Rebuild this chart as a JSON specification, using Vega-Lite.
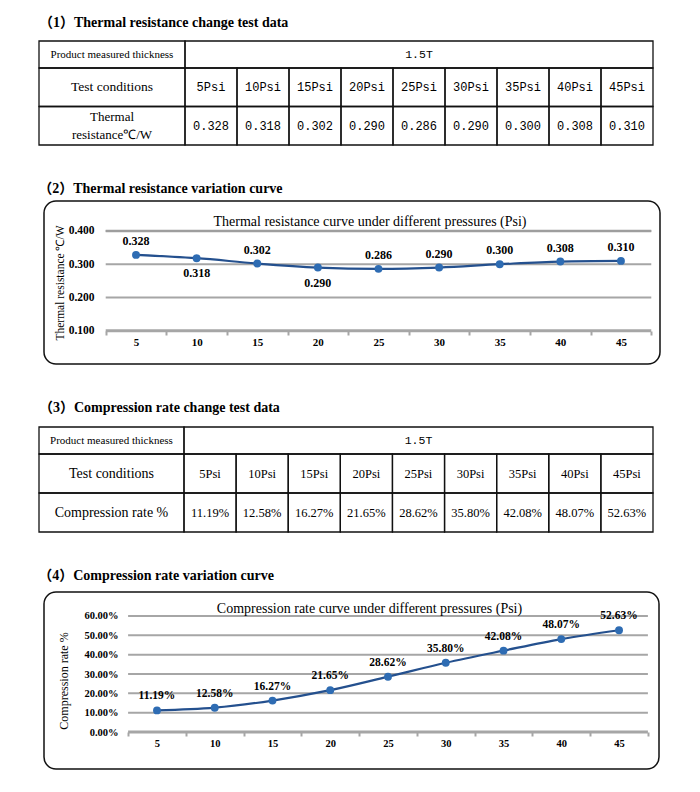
{
  "$schema": "https://vega.github.io/schema/vega-lite/v6.json",
  "padding": {"left": 38, "top": 16, "right": 10, "bottom": 10},
  "background": "white",
  "config": {
    "font": "Liberation Serif",
    "view": {"stroke": null},
    "concat": {"spacing": 36},
    "axis": {"labelFont": "Liberation Serif", "titleFont": "Liberation Serif", "labelColor": "#000", "titleColor": "#000"},
    "title": {"font": "Liberation Serif, Noto Sans CJK SC", "color": "#000"},
    "text": {"font": "Liberation Serif", "color": "#000"}
  },
  "datasets": {
    "table1": [
      {"r0": 0, "r1": 1, "c0": 0, "c1": 1, "t": "Product measured thickness"},
      {"r0": 0, "r1": 1, "c0": 1, "c1": 10, "t": "1.5T"},
      {"r0": 1, "r1": 2, "c0": 0, "c1": 1, "t": "Test conditions"},
      {"r0": 1, "r1": 2, "c0": 1, "c1": 2, "t": "5Psi"},
      {"r0": 1, "r1": 2, "c0": 2, "c1": 3, "t": "10Psi"},
      {"r0": 1, "r1": 2, "c0": 3, "c1": 4, "t": "15Psi"},
      {"r0": 1, "r1": 2, "c0": 4, "c1": 5, "t": "20Psi"},
      {"r0": 1, "r1": 2, "c0": 5, "c1": 6, "t": "25Psi"},
      {"r0": 1, "r1": 2, "c0": 6, "c1": 7, "t": "30Psi"},
      {"r0": 1, "r1": 2, "c0": 7, "c1": 8, "t": "35Psi"},
      {"r0": 1, "r1": 2, "c0": 8, "c1": 9, "t": "40Psi"},
      {"r0": 1, "r1": 2, "c0": 9, "c1": 10, "t": "45Psi"},
      {"r0": 2, "r1": 3, "c0": 0, "c1": 1, "t": "Thermal\nresistance℃/W"},
      {"r0": 2, "r1": 3, "c0": 1, "c1": 2, "t": "0.328"},
      {"r0": 2, "r1": 3, "c0": 2, "c1": 3, "t": "0.318"},
      {"r0": 2, "r1": 3, "c0": 3, "c1": 4, "t": "0.302"},
      {"r0": 2, "r1": 3, "c0": 4, "c1": 5, "t": "0.290"},
      {"r0": 2, "r1": 3, "c0": 5, "c1": 6, "t": "0.286"},
      {"r0": 2, "r1": 3, "c0": 6, "c1": 7, "t": "0.290"},
      {"r0": 2, "r1": 3, "c0": 7, "c1": 8, "t": "0.300"},
      {"r0": 2, "r1": 3, "c0": 8, "c1": 9, "t": "0.308"},
      {"r0": 2, "r1": 3, "c0": 9, "c1": 10, "t": "0.310"}
    ],
    "table3": [
      {"r0": 0, "r1": 1, "c0": 0, "c1": 1, "t": "Product measured thickness"},
      {"r0": 0, "r1": 1, "c0": 1, "c1": 10, "t": "1.5T"},
      {"r0": 1, "r1": 2, "c0": 0, "c1": 1, "t": "Test conditions"},
      {"r0": 1, "r1": 2, "c0": 1, "c1": 2, "t": "5Psi"},
      {"r0": 1, "r1": 2, "c0": 2, "c1": 3, "t": "10Psi"},
      {"r0": 1, "r1": 2, "c0": 3, "c1": 4, "t": "15Psi"},
      {"r0": 1, "r1": 2, "c0": 4, "c1": 5, "t": "20Psi"},
      {"r0": 1, "r1": 2, "c0": 5, "c1": 6, "t": "25Psi"},
      {"r0": 1, "r1": 2, "c0": 6, "c1": 7, "t": "30Psi"},
      {"r0": 1, "r1": 2, "c0": 7, "c1": 8, "t": "35Psi"},
      {"r0": 1, "r1": 2, "c0": 8, "c1": 9, "t": "40Psi"},
      {"r0": 1, "r1": 2, "c0": 9, "c1": 10, "t": "45Psi"},
      {"r0": 2, "r1": 3, "c0": 0, "c1": 1, "t": "Compression rate %"},
      {"r0": 2, "r1": 3, "c0": 1, "c1": 2, "t": "11.19%"},
      {"r0": 2, "r1": 3, "c0": 2, "c1": 3, "t": "12.58%"},
      {"r0": 2, "r1": 3, "c0": 3, "c1": 4, "t": "16.27%"},
      {"r0": 2, "r1": 3, "c0": 4, "c1": 5, "t": "21.65%"},
      {"r0": 2, "r1": 3, "c0": 5, "c1": 6, "t": "28.62%"},
      {"r0": 2, "r1": 3, "c0": 6, "c1": 7, "t": "35.80%"},
      {"r0": 2, "r1": 3, "c0": 7, "c1": 8, "t": "42.08%"},
      {"r0": 2, "r1": 3, "c0": 8, "c1": 9, "t": "48.07%"},
      {"r0": 2, "r1": 3, "c0": 9, "c1": 10, "t": "52.63%"}
    ],
    "thermal": [
      {"p": 5, "r": 0.328}, {"p": 10, "r": 0.318}, {"p": 15, "r": 0.302},
      {"p": 20, "r": 0.290}, {"p": 25, "r": 0.286}, {"p": 30, "r": 0.290},
      {"p": 35, "r": 0.300}, {"p": 40, "r": 0.308}, {"p": 45, "r": 0.310}
    ],
    "compression": [
      {"p": 5, "c": 0.1119}, {"p": 10, "c": 0.1258}, {"p": 15, "c": 0.1627},
      {"p": 20, "c": 0.2165}, {"p": 25, "c": 0.2862}, {"p": 30, "c": 0.3580},
      {"p": 35, "c": 0.4208}, {"p": 40, "c": 0.4807}, {"p": 45, "c": 0.5263}
    ]
  },
  "vconcat": [
    {
      "title": {"text": "（1）Thermal resistance change test data", "anchor": "start", "frame": "group", "offset": -1, "dx": -5, "baseline": "alphabetic", "fontSize": 14, "fontWeight": "bold"},
      "width": 614, "height": 104,
      "data": {"name": "table1"},
      "encoding": {
        "x": {"field": "c0", "type": "quantitative", "scale": {"domain": [0, 1, 10], "range": [-5, 141, 609], "nice": false, "zero": false}, "axis": null},
        "y": {"field": "r0", "type": "quantitative", "scale": {"domain": [0, 1, 3], "range": [0, 27, 104], "nice": false, "zero": false}, "axis": null}
      },
      "layer": [
        {"mark": {"type": "rect", "filled": false, "stroke": "#111", "strokeWidth": 1.3}, "encoding": {"x2": {"field": "c1"}, "y2": {"field": "r1"}}},
        {"transform": [{"filter": "datum.r0 == 0 && datum.c0 == 0"}], "mark": {"type": "text", "align": "center", "baseline": "middle", "dx": 73, "dy": 13.5, "fontSize": 11}, "encoding": {"text": {"field": "t"}}},
        {"transform": [{"filter": "datum.r0 == 0 && datum.c0 > 0"}], "mark": {"type": "text", "align": "center", "baseline": "middle", "dx": 234, "dy": 13.5, "fontSize": 11.5, "font": "Liberation Mono"}, "encoding": {"text": {"field": "t"}}},
        {"transform": [{"filter": "datum.r0 == 1 && datum.c0 == 0"}], "mark": {"type": "text", "align": "center", "baseline": "middle", "dx": 73, "dy": 19, "fontSize": 13.5}, "encoding": {"text": {"field": "t"}}},
        {"transform": [{"filter": "datum.r0 == 2 && datum.c0 == 0"}], "mark": {"type": "text", "align": "center", "baseline": "middle", "dx": 73, "dy": 10.5, "fontSize": 13, "lineBreak": "\n", "lineHeight": 18}, "encoding": {"text": {"field": "t"}}},
        {"transform": [{"filter": "datum.r0 > 0 && datum.c0 > 0"}], "mark": {"type": "text", "align": "center", "baseline": "middle", "dx": 26, "dy": 19, "fontSize": 12, "font": "Liberation Mono"}, "encoding": {"text": {"field": "t"}}}
      ]
    },
    {
      "title": {"text": "（2）Thermal resistance variation curve", "anchor": "start", "offset": -7, "dx": -5, "baseline": "alphabetic", "fontSize": 14, "fontWeight": "bold"},
      "vconcat": [
        {
          "width": 616, "height": 163,
          "view": {"stroke": "#111", "strokeWidth": 1.5, "cornerRadius": 12},
          "title": {"text": "Thermal resistance curve under different pressures (Psi)", "anchor": "middle", "frame": "group", "offset": -39, "dx": 18, "baseline": "alphabetic", "fontSize": 14, "fontWeight": "normal"},
          "resolve": {"axis": {"x": "independent"}},
          "layer": [
            {
              "data": {"values": [{"g": 0.4}, {"g": 0.3}, {"g": 0.2}]},
              "mark": {"type": "rule", "color": "#a6a6a6", "strokeWidth": 2},
              "encoding": {
                "y": {"field": "g", "type": "quantitative", "scale": {"domain": [0, 0.49], "nice": false, "zero": false},
                      "axis": {"values": [0.1, 0.2, 0.3, 0.4], "format": ".3f", "orient": "left", "offset": -52, "domain": false, "ticks": false, "tickSize": 0, "grid": false, "labelPadding": 2, "labelFontSize": 11.5, "labelFontWeight": "bold", "title": "Thermal resistance ℃/W", "titleFontSize": 11.5, "titleFontWeight": "normal", "titlePadding": 2.5}},
                "x": {"datum": 2.5, "type": "quantitative", "scale": {"domain": [-2.59, 48.22], "nice": false, "zero": false}, "axis": null},
                "x2": {"datum": 47.5}
              }
            },
            {
              "data": {"values": [{}]},
              "mark": {"type": "rule", "color": "#9e9e9e", "strokeWidth": 2.5},
              "encoding": {
                "y": {"datum": 0.4, "type": "quantitative", "scale": {"domain": [0, 0.49], "nice": false, "zero": false},
                      "axis": {"values": [0.1, 0.2, 0.3, 0.4], "format": ".3f", "orient": "left", "offset": -52, "domain": false, "ticks": false, "tickSize": 0, "grid": false, "labelPadding": 2, "labelFontSize": 11.5, "labelFontWeight": "bold", "title": "Thermal resistance ℃/W", "titleFontSize": 11.5, "titleFontWeight": "normal", "titlePadding": 2.5}},
                "x": {"datum": 2.5, "type": "quantitative", "scale": {"domain": [-2.59, 48.22], "nice": false, "zero": false}, "axis": null},
                "x2": {"datum": 47.5}
              }
            },
            {
              "data": {"values": [{}]},
              "mark": {"type": "rule", "color": "#a6a6a6", "strokeWidth": 3},
              "encoding": {
                "y": {"datum": 0.1, "type": "quantitative", "scale": {"domain": [0, 0.49], "nice": false, "zero": false},
                      "axis": {"values": [0.1, 0.2, 0.3, 0.4], "format": ".3f", "orient": "left", "offset": -52, "domain": false, "ticks": false, "tickSize": 0, "grid": false, "labelPadding": 2, "labelFontSize": 11.5, "labelFontWeight": "bold", "title": "Thermal resistance ℃/W", "titleFontSize": 11.5, "titleFontWeight": "normal", "titlePadding": 2.5}},
                "x": {"datum": 2.5, "type": "quantitative", "scale": {"domain": [-2.59, 48.22], "nice": false, "zero": false},
                      "axis": {"values": [2.5, 7.5, 12.5, 17.5, 22.5, 27.5, 32.5, 37.5, 42.5, 47.5], "orient": "bottom", "offset": -33, "labels": false, "domain": false, "grid": false, "ticks": true, "tickSize": 4, "tickWidth": 2, "tickColor": "#a6a6a6", "title": null}},
                "x2": {"datum": 47.5}
              }
            },
            {
              "data": {"name": "thermal"},
              "encoding": {
                "x": {"field": "p", "type": "quantitative", "scale": {"domain": [-2.59, 48.22], "nice": false, "zero": false},
                      "axis": {"values": [5, 10, 15, 20, 25, 30, 35, 40, 45], "orient": "bottom", "offset": -33, "ticks": false, "tickSize": 0, "domain": false, "grid": false, "labelPadding": 5, "labelFontSize": 11, "labelFontWeight": "bold", "title": null}},
                "y": {"field": "r", "type": "quantitative", "scale": {"domain": [0, 0.49], "nice": false, "zero": false},
                      "axis": {"values": [0.1, 0.2, 0.3, 0.4], "format": ".3f", "orient": "left", "offset": -52, "domain": false, "ticks": false, "tickSize": 0, "grid": false, "labelPadding": 2, "labelFontSize": 11.5, "labelFontWeight": "bold", "title": "Thermal resistance ℃/W", "titleFontSize": 11.5, "titleFontWeight": "normal", "titlePadding": 2.5}}
              },
              "layer": [
                {"mark": {"type": "line", "color": "#24508e", "strokeWidth": 2.2, "interpolate": "monotone"}},
                {"mark": {"type": "point", "filled": true, "size": 62, "color": "#2e6cb3", "opacity": 1}},
                {"transform": [{"filter": "datum.p != 10 && datum.p != 20"}], "mark": {"type": "text", "dy": -14, "fontSize": 12, "fontWeight": "bold"}, "encoding": {"text": {"field": "r", "type": "quantitative", "format": ".3f"}}},
                {"transform": [{"filter": "datum.p == 10 || datum.p == 20"}], "mark": {"type": "text", "dy": 15, "fontSize": 12, "fontWeight": "bold"}, "encoding": {"text": {"field": "r", "type": "quantitative", "format": ".3f"}}}
              ]
            }
          ]
        }
      ]
    },
    {
      "title": {"text": "（3）Compression rate change test data", "anchor": "start", "frame": "group", "offset": 0, "dx": -5, "baseline": "alphabetic", "fontSize": 14, "fontWeight": "bold"},
      "width": 614, "height": 105,
      "data": {"name": "table3"},
      "encoding": {
        "x": {"field": "c0", "type": "quantitative", "scale": {"domain": [0, 1, 10], "range": [-5, 140, 609], "nice": false, "zero": false}, "axis": null},
        "y": {"field": "r0", "type": "quantitative", "scale": {"domain": [0, 1, 3], "range": [0, 27, 105], "nice": false, "zero": false}, "axis": null}
      },
      "layer": [
        {"mark": {"type": "rect", "filled": false, "stroke": "#111", "strokeWidth": 1.3}, "encoding": {"x2": {"field": "c1"}, "y2": {"field": "r1"}}},
        {"transform": [{"filter": "datum.r0 == 0 && datum.c0 == 0"}], "mark": {"type": "text", "align": "center", "baseline": "middle", "dx": 72.5, "dy": 13.5, "fontSize": 11}, "encoding": {"text": {"field": "t"}}},
        {"transform": [{"filter": "datum.r0 == 0 && datum.c0 > 0"}], "mark": {"type": "text", "align": "center", "baseline": "middle", "dx": 234.5, "dy": 13.5, "fontSize": 11.5, "font": "Liberation Mono"}, "encoding": {"text": {"field": "t"}}},
        {"transform": [{"filter": "datum.r0 > 0 && datum.c0 == 0"}], "mark": {"type": "text", "align": "center", "baseline": "middle", "dx": 72.5, "dy": 19.5, "fontSize": 14}, "encoding": {"text": {"field": "t"}}},
        {"transform": [{"filter": "datum.r0 > 0 && datum.c0 > 0"}], "mark": {"type": "text", "align": "center", "baseline": "middle", "dx": 26, "dy": 19.5, "fontSize": 12.5}, "encoding": {"text": {"field": "t"}}}
      ]
    },
    {
      "title": {"text": "（4）Compression rate variation curve", "anchor": "start", "offset": -3, "dx": -5, "baseline": "alphabetic", "fontSize": 14, "fontWeight": "bold"},
      "vconcat": [
        {
          "width": 615, "height": 177,
          "view": {"stroke": "#111", "strokeWidth": 1.5, "cornerRadius": 12},
          "title": {"text": "Compression rate curve under different pressures (Psi)", "anchor": "middle", "frame": "group", "offset": -35, "dx": 18, "baseline": "alphabetic", "fontSize": 14, "fontWeight": "normal"},
          "resolve": {"axis": {"x": "independent"}},
          "layer": [
            {
              "data": {"values": [{"g": 0.1}, {"g": 0.2}, {"g": 0.3}, {"g": 0.4}, {"g": 0.5}, {"g": 0.6}]},
              "mark": {"type": "rule", "color": "#a6a6a6", "strokeWidth": 2},
              "encoding": {
                "y": {"field": "g", "type": "quantitative", "scale": {"domain": [-0.191, 0.724], "nice": false, "zero": false},
                      "axis": {"values": [0, 0.1, 0.2, 0.3, 0.4, 0.5, 0.6], "format": ".2%", "orient": "left", "offset": -76, "domain": false, "ticks": false, "tickSize": 0, "grid": false, "labelPadding": 2, "labelFontSize": 10.5, "labelFontWeight": "bold", "title": "Compression rate %", "titleFontSize": 12, "titleFontWeight": "normal", "titlePadding": 13}},
                "x": {"datum": 2.5, "type": "quantitative", "scale": {"domain": [-4.78, 48.46], "nice": false, "zero": false}, "axis": null},
                "x2": {"datum": 47.5}
              }
            },
            {
              "data": {"values": [{}]},
              "mark": {"type": "rule", "color": "#a6a6a6", "strokeWidth": 3},
              "encoding": {
                "y": {"datum": 0, "type": "quantitative", "scale": {"domain": [-0.191, 0.724], "nice": false, "zero": false},
                      "axis": {"values": [0, 0.1, 0.2, 0.3, 0.4, 0.5, 0.6], "format": ".2%", "orient": "left", "offset": -76, "domain": false, "ticks": false, "tickSize": 0, "grid": false, "labelPadding": 2, "labelFontSize": 10.5, "labelFontWeight": "bold", "title": "Compression rate %", "titleFontSize": 12, "titleFontWeight": "normal", "titlePadding": 13}},
                "x": {"datum": 2.5, "type": "quantitative", "scale": {"domain": [-4.78, 48.46], "nice": false, "zero": false},
                      "axis": {"values": [2.5, 7.5, 12.5, 17.5, 22.5, 27.5, 32.5, 37.5, 42.5, 47.5], "orient": "bottom", "offset": -37, "labels": false, "domain": false, "grid": false, "ticks": true, "tickSize": 4, "tickWidth": 2, "tickColor": "#a6a6a6", "title": null}},
                "x2": {"datum": 47.5}
              }
            },
            {
              "data": {"name": "compression"},
              "encoding": {
                "x": {"field": "p", "type": "quantitative", "scale": {"domain": [-4.78, 48.46], "nice": false, "zero": false},
                      "axis": {"values": [5, 10, 15, 20, 25, 30, 35, 40, 45], "orient": "bottom", "offset": -37, "ticks": false, "tickSize": 0, "domain": false, "grid": false, "labelPadding": 6, "labelFontSize": 10.5, "labelFontWeight": "bold", "title": null}},
                "y": {"field": "c", "type": "quantitative", "scale": {"domain": [-0.191, 0.724], "nice": false, "zero": false},
                      "axis": {"values": [0, 0.1, 0.2, 0.3, 0.4, 0.5, 0.6], "format": ".2%", "orient": "left", "offset": -76, "domain": false, "ticks": false, "tickSize": 0, "grid": false, "labelPadding": 2, "labelFontSize": 10.5, "labelFontWeight": "bold", "title": "Compression rate %", "titleFontSize": 12, "titleFontWeight": "normal", "titlePadding": 13}}
              },
              "layer": [
                {"mark": {"type": "line", "color": "#24508e", "strokeWidth": 2.2, "interpolate": "monotone"}},
                {"mark": {"type": "point", "filled": true, "size": 62, "color": "#2e6cb3", "opacity": 1}},
                {"mark": {"type": "text", "dy": -14, "fontSize": 11.5, "fontWeight": "bold"}, "encoding": {"text": {"field": "c", "type": "quantitative", "format": ".2%"}}}
              ]
            }
          ]
        }
      ]
    }
  ]
}
